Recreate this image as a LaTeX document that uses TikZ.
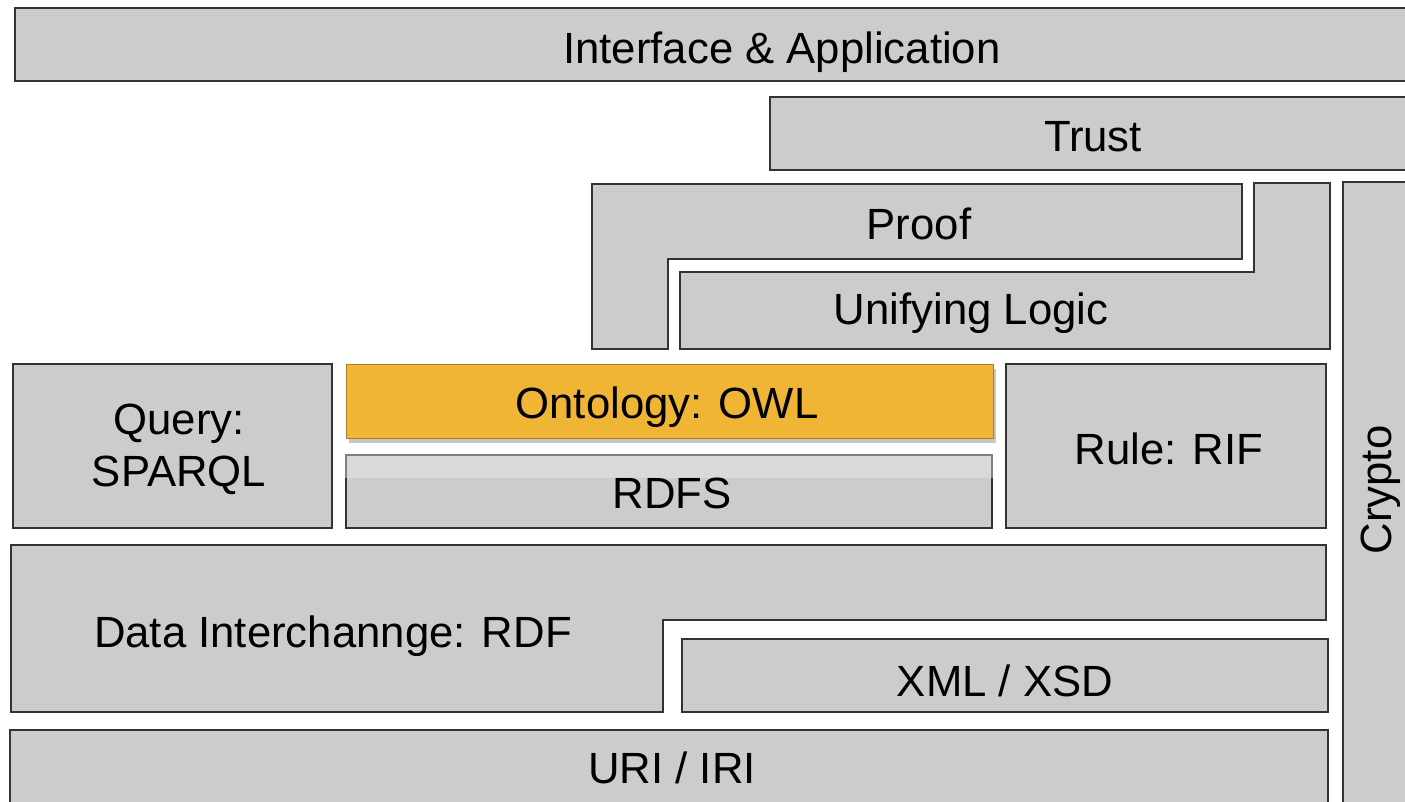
\documentclass[tikz,border=0pt]{standalone}
\usepackage{fontspec}
\setmainfont{Liberation Sans}
\usetikzlibrary{shadows}
\definecolor{boxgray}{HTML}{CCCCCC}
\definecolor{edgegray}{HTML}{333333}
\definecolor{owlorange}{HTML}{F0B535}
\begin{document}
\begin{tikzpicture}[x=1pt,y=-1pt,
  layer/.style={fill=boxgray,draw=edgegray,line width=1.3pt},
  lbl/.style={font=\fontsize{43.7}{51}\selectfont,inner sep=0pt,text=black,anchor=base}]
\useasboundingbox (0,0) rectangle (1405,801);
\begin{scope}
\clip (0,0) rectangle (1405,801);
% Interface & Application
\draw[layer] (15,8) rectangle (1420,81);
% Trust
\draw[layer] (770,97) rectangle (1420,170);
% Proof
\draw[layer] (592,184) -- (1242,184) -- (1242,259) -- (668,259) -- (668,349) -- (592,349) -- cycle;
% Unifying Logic
\draw[layer] (680,272) -- (1254,272) -- (1254,183) -- (1330,183) -- (1330,349) -- (680,349) -- cycle;
% Crypto
\draw[layer] (1343,182) rectangle (1420,820);
% Query
\draw[layer] (13,364) rectangle (332,528);
% RDFS
\draw[layer] (346,455) rectangle (992,528);
\fill[gray!30] (347,456) rectangle (991,478);
\draw[gray,line width=1.3pt] (346,478) -- (346,455) -- (992,455) -- (992,478);
% Ontology
\draw[fill=owlorange,draw=owlorange!70!black,line width=1pt,
  drop shadow={shadow xshift=3pt,shadow yshift=-5pt,opacity=0.45}] (346,364) rectangle (993,438);
% Rule
\draw[layer] (1006,364) rectangle (1326,528);
% Data Interchange
\draw[layer] (11,545) -- (1326,545) -- (1326,620) -- (663,620) -- (663,712) -- (11,712) -- cycle;
% XML
\draw[layer] (682,639) rectangle (1328,712);
% URI
\draw[layer] (10,730) rectangle (1328,820);
\end{scope}
\node[lbl] (ia) at (782,63) {Interface \& Application};
\node[lbl] (trust) at (1093,151) {Trust};
\node[lbl] (proof) at (919,239) {Proof};
\node[lbl] (ul) at (971,324) {Unifying Logic};
\node[lbl] (query) at (179,434) {Query:};
\node[lbl] (sparql) at (179,486) {SPARQL};
\node[lbl] (owl) at (667,418) {Ontology: OWL};
\node[lbl] (rdfs) at (672,508) {RDFS};
\node[lbl] (rif) at (1169,464) {Rule: RIF};
\node[lbl,rotate=90] (crypto) at (1391,490) {Crypto};
\node[lbl] (rdf) at (333,647) {Data Interchannge: RDF};
\node[lbl] (xml) at (1005,696) {XML / XSD};
\node[lbl] (uri) at (672,783) {URI / IRI};
\end{tikzpicture}
\end{document}
